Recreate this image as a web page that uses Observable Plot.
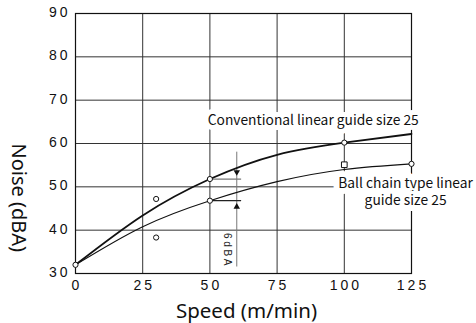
<!DOCTYPE html>
<html><head><meta charset="utf-8">
<script src="https://cdn.jsdelivr.net/npm/d3@7"></script>
<script src="https://cdn.jsdelivr.net/npm/@observablehq/plot@0.6"></script>
<style>
html,body{margin:0;padding:0;background:#fff;}
svg [aria-label$="tick label"] text{letter-spacing:3px;}
svg [aria-label="dba"] text, svg g[font-size="10"] text{letter-spacing:2.6px;}
svg g[stroke-width="10"] text, svg g[stroke-width="12"] text{paint-order:stroke;stroke-linejoin:round;}
</style></head>
<body><div id="chart"></div>
<script>
// Speed (m/min) and noise (dBA) values
const upperX = [0, 25, 50, 75, 100, 125];
const upperY = [32, 43.4, 51.8, 57.4, 60.2, 62.2];
const lowerX = [0, 25, 50, 75, 100, 125];
const lowerY = [32, 40.8, 46.8, 51.2, 54, 55.3];
const circleX = [0, 30, 30, 50, 50, 100, 125];
const circleY = [32, 47.2, 38.3, 51.8, 46.8, 60.2, 55.3];
const squareX = [100];
const squareY = [55.1];
const xTicks = [0, 25, 50, 75, 100, 125];
const yTicks = [30, 40, 50, 60, 70, 80, 90];
const gridXs = [25, 50, 75, 100];
const gridYs = [40, 50, 60, 70, 80];
const labelUpper = "Conventional linear guide size 25";
const labelLower = "Ball chain type linear\nguide size 25";
const dimText = "6dBA";
const xLabel = "Speed (m/min)";
const yLabel = "Noise (dBA)";
// annotation anchors (data units)
const dimLine = {x: 60, y1: 31.5, y2: 58};
const dimTicks = [{y: 51.8, x1: 50, x2: 61.8, c: "#777"}, {y: 46.8, x1: 50, x2: 61.8, c: "#222"}];
const dimArrows = [{x: 60, y: 53.4, rot: 180}, {x: 60, y: 45.4, rot: 0}];
const labelUpperPos = {x: 49.2, y: 65.3};
const labelLowerPos = {x: 122.8, y: 49.0};
const dimTextPos = {x: 56.4, y: 35.3};

const upper = upperX.map((x, i) => ({x, y: upperY[i]}));
const lower = lowerX.map((x, i) => ({x, y: lowerY[i]}));
const circles = circleX.map((x, i) => ({x, y: circleY[i]}));
const squares = squareX.map((x, i) => ({x, y: squareY[i]}));

const labFont = "'Noto Sans CJK JP', 'Noto Sans', sans-serif";
const labSize = 13.8;

const plot = Plot.plot({
  width: 476, height: 323,
  marginLeft: 75, marginRight: 65, marginTop: 13, marginBottom: 50,
  style: {fontFamily: "'Liberation Sans', Arial, sans-serif", background: "#fff", color: "#111", overflow: "visible"},
  x: {domain: [0, 125]},
  y: {domain: [30, 90]},
  marks: [
    Plot.gridY(gridYs, {stroke: "#333", strokeOpacity: 1, strokeWidth: 1}),
    Plot.gridX(gridXs, {stroke: "#333", strokeOpacity: 1, strokeWidth: 1}),
    Plot.frame({stroke: "#111", strokeWidth: 1.2}),
    Plot.ruleX([dimLine], {x: "x", y1: "y1", y2: "y2", stroke: "#777", strokeWidth: 1}),
    Plot.ruleY(dimTicks, {y: "y", x1: "x1", x2: "x2", stroke: "c", strokeWidth: 1.2}),
    Plot.dot(dimArrows, {x: "x", y: "y", rotate: "rot", symbol: "triangle", r: 2.4, fill: "#111", stroke: null}),
    Plot.line(upper, {x: "x", y: "y", curve: "natural", stroke: "#111", strokeWidth: 1.8}),
    Plot.line(lower, {x: "x", y: "y", curve: "natural", stroke: "#111", strokeWidth: 1.1}),
    Plot.dot(circles, {x: "x", y: "y", r: 2.6, fill: "#fff", stroke: "#111", strokeWidth: 1}),
    Plot.dot(squares, {x: "x", y: "y", symbol: "square", r: 3.2, fill: "#fff", stroke: "#111", strokeWidth: 1}),
    Plot.text([labelUpper], {x: labelUpperPos.x, y: labelUpperPos.y, text: d => d, textAnchor: "start", fontSize: labSize, fontFamily: labFont, fill: "#111", stroke: "#fff", strokeWidth: 10}),
    Plot.text([labelLower], {x: labelLowerPos.x, y: labelLowerPos.y, text: d => d, textAnchor: "middle", fontSize: labSize, lineHeight: 1.22, fontFamily: labFont, fill: "#111", stroke: "#fff", strokeWidth: 12}),
    Plot.text([dimText], {x: dimTextPos.x, y: dimTextPos.y, text: d => d, rotate: 90, fontSize: 10, fill: "#222", ariaLabel: "dba"}),
    Plot.axisX({ticks: xTicks, tickSize: 0, tickPadding: 7, fontSize: 14, label: null, dx: 1.5}),
    Plot.axisY({ticks: yTicks, tickSize: 0, tickPadding: 5, fontSize: 14, label: null, dy: -1}),
    Plot.text([xLabel], {frameAnchor: "bottom", text: d => d, lineAnchor: "bottom", dy: 44, dx: 3, fontSize: 20.5, fontFamily: "'Noto Sans', sans-serif", fill: "#111"}),
    Plot.text([yLabel], {frameAnchor: "left", text: d => d, rotate: 90, dx: -57, fontSize: 20, fontFamily: "'Noto Sans', sans-serif", fill: "#111"})
  ]
});
document.getElementById("chart").appendChild(plot);
</script>
</body></html>
